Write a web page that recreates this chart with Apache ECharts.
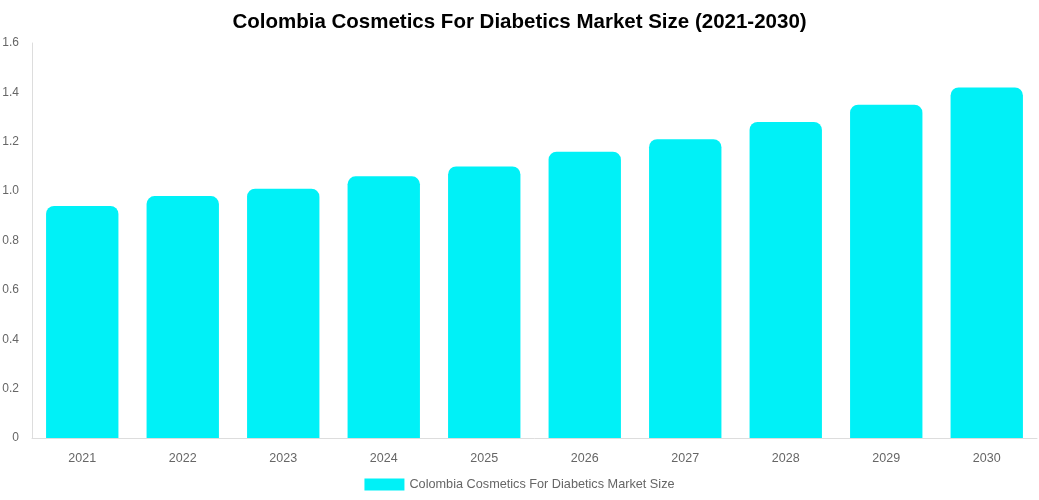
<!DOCTYPE html>
<html>
<head>
<meta charset="utf-8">
<script src="https://cdn.jsdelivr.net/npm/echarts@6/dist/echarts.min.js"></script>
<style>
  html, body { margin: 0; padding: 0; background: #fff; }
  #main { width: 1039px; height: 500px; }
</style>
</head>
<body>
<div id="main"></div>
<script>
  var years = ['2021','2022','2023','2024','2025','2026','2027','2028','2029','2030'];
  var marketSize = [0.94, 0.98, 1.01, 1.06, 1.10, 1.16, 1.21, 1.28, 1.35, 1.42];
  var seriesName = 'Colombia Cosmetics For Diabetics Market Size';

  var option = {
    backgroundColor: '#fff',
    title: {
      text: 'Colombia Cosmetics For Diabetics Market Size (2021-2030)',
      left: 'center',
      top: 7,
      textStyle: {
        fontFamily: 'Arial, Liberation Sans, sans-serif',
        fontSize: 20.5,
        fontWeight: 'bold',
        color: '#000'
      }
    },
    legend: {
      data: [seriesName],
      bottom: 4,
      left: 'center',
      icon: 'rect',
      itemWidth: 40,
      itemHeight: 12,
      itemGap: 10,
      textStyle: { color: '#666', fontSize: 12.7, fontFamily: 'Arial, Liberation Sans, sans-serif' }
    },
    grid: { left: 32, right: 2, top: 43, bottom: 62, outerBoundsMode: 'none' },
    xAxis: {
      type: 'category',
      data: years,
      axisLine: { lineStyle: { color: '#ddd' } },
      axisTick: { show: false },
      axisLabel: { color: '#666', fontSize: 12.5, margin: 14, fontFamily: 'Arial, Liberation Sans, sans-serif' }
    },
    yAxis: {
      type: 'value',
      min: 0,
      max: 1.6,
      interval: 0.2,
      axisLine: { show: true, lineStyle: { color: '#ddd' } },
      axisTick: { show: false },
      splitLine: { show: false },
      axisLabel: {
        color: '#666', fontSize: 12, margin: 13,
        fontFamily: 'Arial, Liberation Sans, sans-serif',
        formatter: function (v) { return v === 0 ? '0' : v.toFixed(1); }
      }
    },
    series: [{
      name: seriesName,
      type: 'bar',
      data: marketSize,
      barWidth: '72%',
      itemStyle: { color: '#00f1f7', borderRadius: [8, 8, 0, 0] }
    }]
  };

  var chart = echarts.init(document.getElementById('main'));
  chart.setOption(option);
</script>
</body>
</html>
